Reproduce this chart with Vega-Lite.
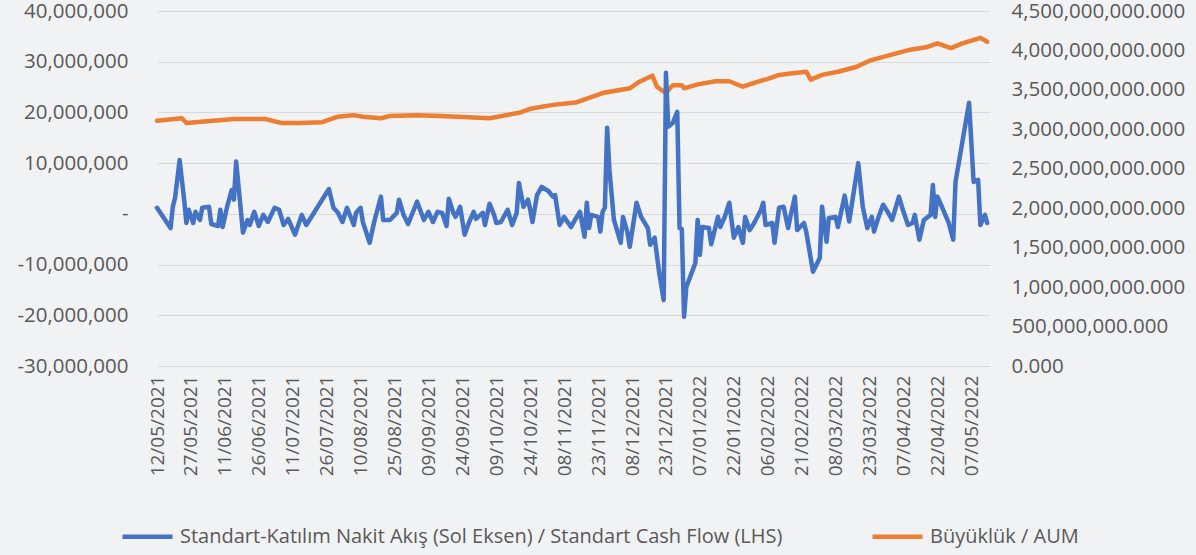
{
  "$schema": "https://vega.github.io/schema/vega-lite/v6.json",
  "width": 833,
  "height": 355,
  "autosize": {"type": "none"},
  "padding": {"left": 157, "top": 11, "right": 206, "bottom": 189},
  "background": "#f1f2f4",
  "config": {"font": "Open Sans", "view": {"stroke": null}},
  "datasets": {
    "flow": [
      {"date": "2021-05-12", "flow": 1200000},
      {"date": "2021-05-18", "flow": -2800000},
      {"date": "2021-05-19", "flow": 1400000},
      {"date": "2021-05-20", "flow": 3200000},
      {"date": "2021-05-22", "flow": 10600000},
      {"date": "2021-05-24", "flow": 2800000},
      {"date": "2021-05-25", "flow": -1800000},
      {"date": "2021-05-26", "flow": 800000},
      {"date": "2021-05-28", "flow": -1800000},
      {"date": "2021-05-29", "flow": 400000},
      {"date": "2021-05-31", "flow": -1200000},
      {"date": "2021-06-01", "flow": 1200000},
      {"date": "2021-06-04", "flow": 1400000},
      {"date": "2021-06-05", "flow": -2000000},
      {"date": "2021-06-08", "flow": -2400000},
      {"date": "2021-06-09", "flow": 800000},
      {"date": "2021-06-10", "flow": -2600000},
      {"date": "2021-06-12", "flow": 1400000},
      {"date": "2021-06-14", "flow": 4700000},
      {"date": "2021-06-15", "flow": 2800000},
      {"date": "2021-06-16", "flow": 10300000},
      {"date": "2021-06-19", "flow": -3700000},
      {"date": "2021-06-21", "flow": -1200000},
      {"date": "2021-06-22", "flow": -2200000},
      {"date": "2021-06-24", "flow": 400000},
      {"date": "2021-06-26", "flow": -2400000},
      {"date": "2021-06-28", "flow": -200000},
      {"date": "2021-06-30", "flow": -1600000},
      {"date": "2021-07-03", "flow": 1200000},
      {"date": "2021-07-05", "flow": 800000},
      {"date": "2021-07-07", "flow": -2200000},
      {"date": "2021-07-09", "flow": -1000000},
      {"date": "2021-07-12", "flow": -4100000},
      {"date": "2021-07-15", "flow": -200000},
      {"date": "2021-07-17", "flow": -2200000},
      {"date": "2021-07-27", "flow": 4900000},
      {"date": "2021-07-29", "flow": 1200000},
      {"date": "2021-07-31", "flow": 200000},
      {"date": "2021-08-02", "flow": -1600000},
      {"date": "2021-08-04", "flow": 1200000},
      {"date": "2021-08-07", "flow": -2200000},
      {"date": "2021-08-08", "flow": 200000},
      {"date": "2021-08-10", "flow": 1200000},
      {"date": "2021-08-11", "flow": -1600000},
      {"date": "2021-08-14", "flow": -5700000},
      {"date": "2021-08-16", "flow": -1600000},
      {"date": "2021-08-19", "flow": 3400000},
      {"date": "2021-08-20", "flow": -1200000},
      {"date": "2021-08-23", "flow": -1200000},
      {"date": "2021-08-26", "flow": 200000},
      {"date": "2021-08-27", "flow": 2800000},
      {"date": "2021-08-29", "flow": -200000},
      {"date": "2021-08-31", "flow": -2000000},
      {"date": "2021-09-04", "flow": 2400000},
      {"date": "2021-09-07", "flow": -1200000},
      {"date": "2021-09-09", "flow": 400000},
      {"date": "2021-09-11", "flow": -1600000},
      {"date": "2021-09-13", "flow": 400000},
      {"date": "2021-09-15", "flow": 200000},
      {"date": "2021-09-17", "flow": -2400000},
      {"date": "2021-09-18", "flow": 3000000},
      {"date": "2021-09-20", "flow": 200000},
      {"date": "2021-09-21", "flow": -600000},
      {"date": "2021-09-23", "flow": 1400000},
      {"date": "2021-09-25", "flow": -4100000},
      {"date": "2021-09-27", "flow": -1600000},
      {"date": "2021-09-29", "flow": 400000},
      {"date": "2021-09-30", "flow": -1000000},
      {"date": "2021-10-03", "flow": 200000},
      {"date": "2021-10-04", "flow": -2200000},
      {"date": "2021-10-06", "flow": 2000000},
      {"date": "2021-10-08", "flow": -200000},
      {"date": "2021-10-09", "flow": -1800000},
      {"date": "2021-10-11", "flow": -1600000},
      {"date": "2021-10-14", "flow": 800000},
      {"date": "2021-10-16", "flow": -2200000},
      {"date": "2021-10-18", "flow": 200000},
      {"date": "2021-10-19", "flow": 6100000},
      {"date": "2021-10-21", "flow": 1400000},
      {"date": "2021-10-23", "flow": 2800000},
      {"date": "2021-10-24", "flow": 800000},
      {"date": "2021-10-25", "flow": -1600000},
      {"date": "2021-10-27", "flow": 3700000},
      {"date": "2021-10-29", "flow": 5300000},
      {"date": "2021-11-01", "flow": 4500000},
      {"date": "2021-11-03", "flow": 3400000},
      {"date": "2021-11-04", "flow": 3700000},
      {"date": "2021-11-06", "flow": -2200000},
      {"date": "2021-11-08", "flow": -600000},
      {"date": "2021-11-11", "flow": -2600000},
      {"date": "2021-11-13", "flow": -1000000},
      {"date": "2021-11-15", "flow": 400000},
      {"date": "2021-11-17", "flow": -4500000},
      {"date": "2021-11-18", "flow": 2200000},
      {"date": "2021-11-19", "flow": -2800000},
      {"date": "2021-11-20", "flow": -200000},
      {"date": "2021-11-23", "flow": -600000},
      {"date": "2021-11-24", "flow": -3500000},
      {"date": "2021-11-25", "flow": 400000},
      {"date": "2021-11-26", "flow": 1200000},
      {"date": "2021-11-27", "flow": 17000000},
      {"date": "2021-11-28", "flow": 8700000},
      {"date": "2021-11-30", "flow": -1200000},
      {"date": "2021-12-03", "flow": -5700000},
      {"date": "2021-12-04", "flow": -600000},
      {"date": "2021-12-06", "flow": -3700000},
      {"date": "2021-12-07", "flow": -6500000},
      {"date": "2021-12-10", "flow": 2200000},
      {"date": "2021-12-12", "flow": -600000},
      {"date": "2021-12-15", "flow": -2800000},
      {"date": "2021-12-16", "flow": -6100000},
      {"date": "2021-12-18", "flow": -4700000},
      {"date": "2021-12-20", "flow": -11600000},
      {"date": "2021-12-22", "flow": -17000000},
      {"date": "2021-12-23", "flow": 27800000},
      {"date": "2021-12-24", "flow": 17200000},
      {"date": "2021-12-26", "flow": 17900000},
      {"date": "2021-12-28", "flow": 20100000},
      {"date": "2021-12-29", "flow": -2800000},
      {"date": "2021-12-30", "flow": -3000000},
      {"date": "2021-12-31", "flow": -20300000},
      {"date": "2022-01-01", "flow": -14400000},
      {"date": "2022-01-05", "flow": -9700000},
      {"date": "2022-01-06", "flow": -1200000},
      {"date": "2022-01-07", "flow": -8100000},
      {"date": "2022-01-08", "flow": -2600000},
      {"date": "2022-01-11", "flow": -2800000},
      {"date": "2022-01-12", "flow": -6000000},
      {"date": "2022-01-15", "flow": -600000},
      {"date": "2022-01-16", "flow": -2600000},
      {"date": "2022-01-18", "flow": -600000},
      {"date": "2022-01-20", "flow": 2200000},
      {"date": "2022-01-22", "flow": -4700000},
      {"date": "2022-01-24", "flow": -2600000},
      {"date": "2022-01-26", "flow": -5700000},
      {"date": "2022-01-27", "flow": -600000},
      {"date": "2022-01-29", "flow": -3200000},
      {"date": "2022-01-31", "flow": -1800000},
      {"date": "2022-02-03", "flow": 800000},
      {"date": "2022-02-04", "flow": 2200000},
      {"date": "2022-02-05", "flow": -2200000},
      {"date": "2022-02-08", "flow": -1800000},
      {"date": "2022-02-09", "flow": -5700000},
      {"date": "2022-02-11", "flow": 1200000},
      {"date": "2022-02-13", "flow": 1400000},
      {"date": "2022-02-15", "flow": -2800000},
      {"date": "2022-02-16", "flow": -600000},
      {"date": "2022-02-18", "flow": 3400000},
      {"date": "2022-02-19", "flow": -3200000},
      {"date": "2022-02-22", "flow": -1800000},
      {"date": "2022-02-23", "flow": -3500000},
      {"date": "2022-02-26", "flow": -11400000},
      {"date": "2022-03-01", "flow": -8700000},
      {"date": "2022-03-02", "flow": 1400000},
      {"date": "2022-03-04", "flow": -5500000},
      {"date": "2022-03-05", "flow": -800000},
      {"date": "2022-03-08", "flow": -600000},
      {"date": "2022-03-09", "flow": -2600000},
      {"date": "2022-03-12", "flow": 3600000},
      {"date": "2022-03-14", "flow": -1500000},
      {"date": "2022-03-18", "flow": 10000000},
      {"date": "2022-03-20", "flow": 1400000},
      {"date": "2022-03-22", "flow": -2800000},
      {"date": "2022-03-24", "flow": -600000},
      {"date": "2022-03-25", "flow": -3500000},
      {"date": "2022-03-27", "flow": -600000},
      {"date": "2022-03-29", "flow": 1800000},
      {"date": "2022-03-31", "flow": 400000},
      {"date": "2022-04-02", "flow": -1200000},
      {"date": "2022-04-05", "flow": 3400000},
      {"date": "2022-04-07", "flow": 400000},
      {"date": "2022-04-09", "flow": -2200000},
      {"date": "2022-04-11", "flow": -1800000},
      {"date": "2022-04-12", "flow": -200000},
      {"date": "2022-04-14", "flow": -5100000},
      {"date": "2022-04-16", "flow": -1200000},
      {"date": "2022-04-19", "flow": -200000},
      {"date": "2022-04-20", "flow": 5700000},
      {"date": "2022-04-21", "flow": -600000},
      {"date": "2022-04-22", "flow": 3400000},
      {"date": "2022-04-24", "flow": 1400000},
      {"date": "2022-04-27", "flow": -1800000},
      {"date": "2022-04-29", "flow": -5100000},
      {"date": "2022-04-30", "flow": 6300000},
      {"date": "2022-05-06", "flow": 21900000},
      {"date": "2022-05-08", "flow": 6300000},
      {"date": "2022-05-10", "flow": 6700000},
      {"date": "2022-05-11", "flow": -2200000},
      {"date": "2022-05-13", "flow": -200000},
      {"date": "2022-05-14", "flow": -1800000}
    ],
    "aum": [
      {"date": "2021-05-12", "aum": 3110000000},
      {"date": "2021-05-23", "aum": 3140000000},
      {"date": "2021-05-25", "aum": 3080000000},
      {"date": "2021-06-15", "aum": 3130000000},
      {"date": "2021-06-29", "aum": 3130000000},
      {"date": "2021-07-06", "aum": 3080000000},
      {"date": "2021-07-14", "aum": 3080000000},
      {"date": "2021-07-24", "aum": 3090000000},
      {"date": "2021-07-31", "aum": 3160000000},
      {"date": "2021-08-07", "aum": 3180000000},
      {"date": "2021-08-11", "aum": 3160000000},
      {"date": "2021-08-19", "aum": 3140000000},
      {"date": "2021-08-23", "aum": 3170000000},
      {"date": "2021-09-04", "aum": 3180000000},
      {"date": "2021-09-14", "aum": 3170000000},
      {"date": "2021-09-22", "aum": 3160000000},
      {"date": "2021-10-06", "aum": 3140000000},
      {"date": "2021-10-19", "aum": 3210000000},
      {"date": "2021-10-24", "aum": 3260000000},
      {"date": "2021-11-03", "aum": 3310000000},
      {"date": "2021-11-13", "aum": 3340000000},
      {"date": "2021-11-25", "aum": 3460000000},
      {"date": "2021-12-07", "aum": 3520000000},
      {"date": "2021-12-11", "aum": 3600000000},
      {"date": "2021-12-17", "aum": 3680000000},
      {"date": "2021-12-19", "aum": 3540000000},
      {"date": "2021-12-23", "aum": 3460000000},
      {"date": "2021-12-26", "aum": 3560000000},
      {"date": "2021-12-30", "aum": 3560000000},
      {"date": "2021-12-31", "aum": 3520000000},
      {"date": "2022-01-06", "aum": 3570000000},
      {"date": "2022-01-14", "aum": 3610000000},
      {"date": "2022-01-20", "aum": 3610000000},
      {"date": "2022-01-26", "aum": 3540000000},
      {"date": "2022-01-31", "aum": 3590000000},
      {"date": "2022-02-06", "aum": 3640000000},
      {"date": "2022-02-11", "aum": 3690000000},
      {"date": "2022-02-17", "aum": 3710000000},
      {"date": "2022-02-23", "aum": 3730000000},
      {"date": "2022-02-25", "aum": 3630000000},
      {"date": "2022-03-02", "aum": 3690000000},
      {"date": "2022-03-09", "aum": 3730000000},
      {"date": "2022-03-17", "aum": 3790000000},
      {"date": "2022-03-23", "aum": 3870000000},
      {"date": "2022-04-01", "aum": 3940000000},
      {"date": "2022-04-10", "aum": 4010000000},
      {"date": "2022-04-17", "aum": 4040000000},
      {"date": "2022-04-22", "aum": 4090000000},
      {"date": "2022-04-28", "aum": 4030000000},
      {"date": "2022-05-03", "aum": 4090000000},
      {"date": "2022-05-11", "aum": 4160000000},
      {"date": "2022-05-14", "aum": 4110000000}
    ]
  },
  "encoding": {
    "x": {
      "field": "date", "type": "temporal",
      "scale": {"type": "utc", "domain": [{"year": 2021, "month": 5, "date": 12, "utc": true}, {"year": 2022, "month": 5, "date": 15, "hours": 6, "utc": true}]},
      "axis": {
        "values": [
          {"year": 2021, "month": 5, "date": 12, "utc": true},
          {"year": 2021, "month": 5, "date": 27, "utc": true},
          {"year": 2021, "month": 6, "date": 11, "utc": true},
          {"year": 2021, "month": 6, "date": 26, "utc": true},
          {"year": 2021, "month": 7, "date": 11, "utc": true},
          {"year": 2021, "month": 7, "date": 26, "utc": true},
          {"year": 2021, "month": 8, "date": 10, "utc": true},
          {"year": 2021, "month": 8, "date": 25, "utc": true},
          {"year": 2021, "month": 9, "date": 9, "utc": true},
          {"year": 2021, "month": 9, "date": 24, "utc": true},
          {"year": 2021, "month": 10, "date": 9, "utc": true},
          {"year": 2021, "month": 10, "date": 24, "utc": true},
          {"year": 2021, "month": 11, "date": 8, "utc": true},
          {"year": 2021, "month": 11, "date": 23, "utc": true},
          {"year": 2021, "month": 12, "date": 8, "utc": true},
          {"year": 2021, "month": 12, "date": 23, "utc": true},
          {"year": 2022, "month": 1, "date": 7, "utc": true},
          {"year": 2022, "month": 1, "date": 22, "utc": true},
          {"year": 2022, "month": 2, "date": 6, "utc": true},
          {"year": 2022, "month": 2, "date": 21, "utc": true},
          {"year": 2022, "month": 3, "date": 8, "utc": true},
          {"year": 2022, "month": 3, "date": 23, "utc": true},
          {"year": 2022, "month": 4, "date": 7, "utc": true},
          {"year": 2022, "month": 4, "date": 22, "utc": true},
          {"year": 2022, "month": 5, "date": 7, "utc": true}
        ],
        "labelExpr": "utcFormat(datum.value, '%d/%m/%Y')",
        "labelAngle": -90, "labelFontSize": 19, "labelColor": "#595959", "labelPadding": 9,
        "grid": false, "domain": false, "ticks": false, "title": null,
        "labelOverlap": false, "labelFlush": false
      }
    }
  },
  "layer": [
    {
      "data": {"name": "aum"},
      "mark": {"type": "line", "strokeWidth": 4.5, "strokeCap": "round", "strokeJoin": "round"},
      "encoding": {
        "y": {
          "field": "aum", "type": "quantitative",
          "scale": {"domain": [0, 4500000000], "nice": false, "zero": true},
          "axis": {
            "orient": "right",
            "values": [0, 500000000, 1000000000, 1500000000, 2000000000, 2500000000, 3000000000, 3500000000, 4000000000, 4500000000],
            "format": ",.3f", "grid": false, "domain": false, "ticks": false, "title": null,
            "labelFontSize": 20.5, "labelColor": "#595959", "labelPadding": 21, "labelLimit": 400, "labelOverlap": false
          }
        },
        "color": {
          "datum": "Büyüklük / AUM", "type": "nominal",
          "scale": {"domain": ["Standart-Katılım Nakit Akış (Sol Eksen) / Standart Cash Flow (LHS)", "Büyüklük / AUM"], "range": ["#4472C4", "#ED7D31"]},
          "legend": {
            "orient": "none", "legendX": -37, "legendY": 498, "direction": "horizontal",
            "title": null, "symbolType": "stroke", "symbolSize": 2500, "symbolStrokeWidth": 4.5,
            "labelFontSize": 20, "labelColor": "#595959", "labelLimit": 1000, "labelOffset": 5,
            "columnPadding": 80
          }
        }
      }
    },
    {
      "data": {"name": "flow"},
      "mark": {"type": "line", "strokeWidth": 4.5, "strokeCap": "round", "strokeJoin": "round"},
      "encoding": {
        "y": {
          "field": "flow", "type": "quantitative",
          "scale": {"domain": [-30000000, 40000000], "nice": false},
          "axis": {
            "orient": "left",
            "values": [-30000000, -20000000, -10000000, 0, 10000000, 20000000, 30000000, 40000000],
            "labelExpr": "datum.value === 0 ? '-\u00a0\u00a0' : (datum.value < 0 ? '-' + format(-datum.value, ',') : format(datum.value, ','))",
            "grid": true, "gridColor": "#d9d9d9", "gridWidth": 1.2,
            "domain": false, "ticks": false, "title": null,
            "labelFontSize": 20.5, "labelColor": "#595959", "labelPadding": 29, "labelLimit": 400, "labelOverlap": false
          }
        },
        "color": {"datum": "Standart-Katılım Nakit Akış (Sol Eksen) / Standart Cash Flow (LHS)", "type": "nominal"}
      }
    }
  ],
  "resolve": {"scale": {"y": "independent"}, "axis": {"y": "independent"}}
}
